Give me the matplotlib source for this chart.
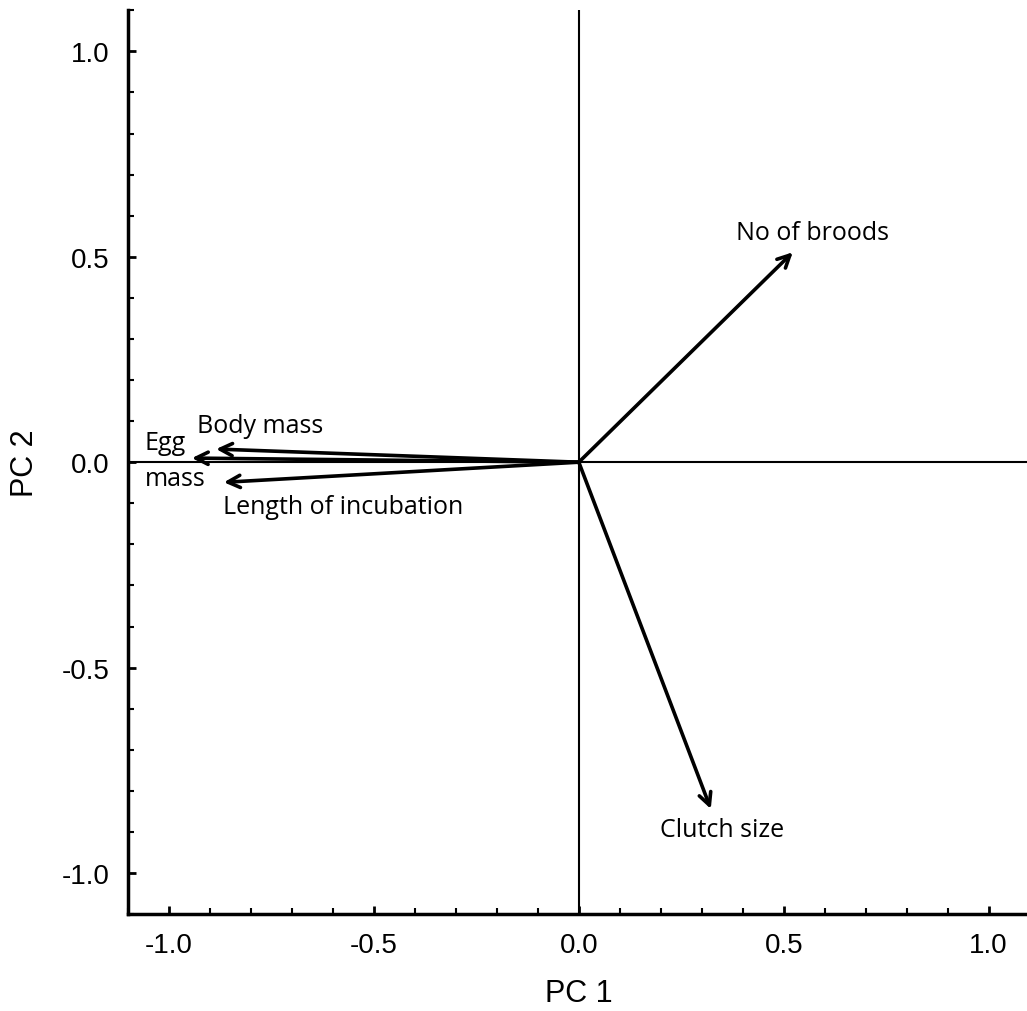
import numpy as np
import matplotlib.pyplot as plt
from matplotlib.ticker import MultipleLocator

# loadings (PC1, PC2)
variables = ["No of broods", "Clutch size", "Body mass", "Egg mass", "Length of incubation"]
pc1 = [0.522, 0.322, -0.885, -0.944, -0.866]
pc2 = [0.511, -0.844, 0.032, 0.010, -0.049]

# label positions
label_text = ["No of broods", "Clutch size", "Body mass", "Egg", "mass", "Length of incubation"]
label_x = [0.571, 0.349, -0.932, -1.059, -1.059, -0.868]
label_y = [0.56, -0.893, 0.09, 0.049, -0.039, -0.107]
label_ha = ["center", "center", "left", "left", "left", "left"]

fig = plt.figure(figsize=(10.27, 10.12), dpi=100)
ax = fig.add_axes([0.1246, 0.0958, 0.878, 0.893])

ax.axhline(0, color="black", lw=1.5)
ax.axvline(0, color="black", lw=1.5)

for x, y in zip(pc1, pc2):
    ax.annotate("", xy=(x, y), xytext=(0, 0),
                arrowprops=dict(arrowstyle="->", color="black", lw=2.6,
                                mutation_scale=22, shrinkA=0, shrinkB=0))

for t, x, y, ha in zip(label_text, label_x, label_y, label_ha):
    ax.text(x, y, t, ha=ha, va="center", fontsize=18, family="Open Sans")

ax.set_xlim(-1.1, 1.1)
ax.set_ylim(-1.1, 1.1)
ax.xaxis.set_major_locator(MultipleLocator(0.5))
ax.yaxis.set_major_locator(MultipleLocator(0.5))
ax.xaxis.set_minor_locator(MultipleLocator(0.1))
ax.yaxis.set_minor_locator(MultipleLocator(0.1))
ax.tick_params(which="major", direction="in", length=6, width=2, labelsize=20, pad=13)
ax.tick_params(which="minor", direction="in", length=4, width=1.5)
for lbl in ax.get_xticklabels() + ax.get_yticklabels():
    lbl.set_family("Liberation Sans")
ax.xaxis.set_major_formatter(plt.FuncFormatter(lambda v, p: f"{v:.1f}"))
ax.yaxis.set_major_formatter(plt.FuncFormatter(lambda v, p: f"{v:.1f}"))

for s in ["top", "right"]:
    ax.spines[s].set_visible(False)
for s in ["left", "bottom"]:
    ax.spines[s].set_linewidth(2.5)

ax.set_xlabel("PC 1", fontsize=22, family="Liberation Sans", labelpad=14)
ax.set_ylabel("PC 2", fontsize=22, family="Liberation Sans", labelpad=16)

fig.savefig("out.png", dpi=100)
